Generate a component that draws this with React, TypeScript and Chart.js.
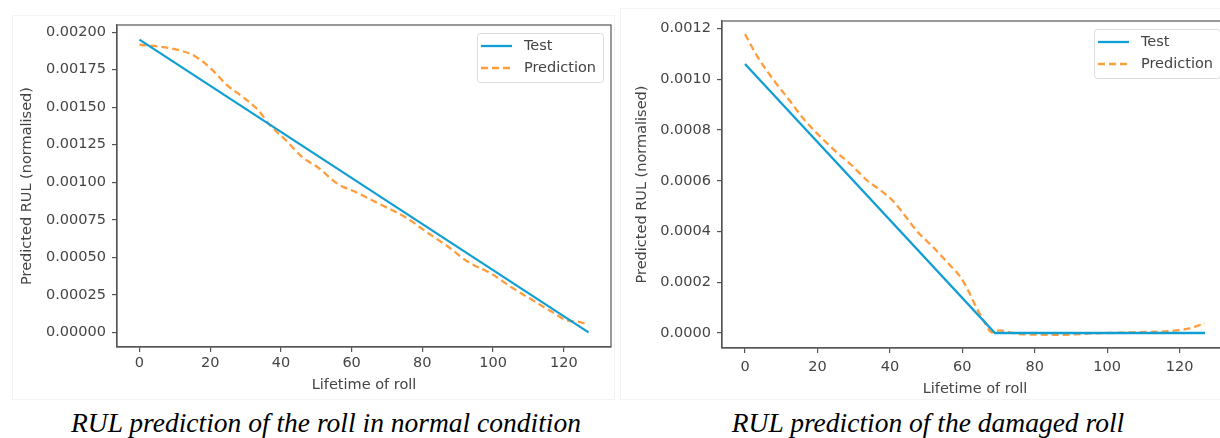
import React, { useEffect, useRef } from "react";
import { Chart, registerables } from "chart.js";

Chart.register(...registerables);

// ---------- data ----------
const seriesLabels = ["Test", "Prediction"];
const xAxisTitle = "Lifetime of roll";
const yAxisTitle = "Predicted RUL (normalised)";
const xTicks = [0, 20, 40, 60, 80, 100, 120];

// normal condition
const normalTestX = [0, 127];
const normalTestY = [0.00195, 0];
const normalPredX = [0, 5.6, 11.2, 15.7, 20.1, 24.6, 29.1, 33.6, 36.9, 41.4, 45.9, 50.4, 56, 61.6, 68.3, 75, 81.7, 87.3, 92.9, 99.6, 105.2, 110.8, 116.4, 120.9, 124.3, 127];
const normalPredY = [0.001916, 0.001904, 0.00188, 0.00184, 0.00176, 0.00165, 0.00157, 0.00148, 0.00138, 0.00128, 0.00117, 0.0011, 0.00099, 0.00093, 0.00085, 0.00077, 0.00066, 0.00057, 0.00047, 0.00039, 0.0003, 0.00022, 0.00014, 0.00008, 0.00007, 0.00005];
const normalYTicks = [0, 0.00025, 0.0005, 0.00075, 0.001, 0.00125, 0.0015, 0.00175, 0.002];

// damaged roll
const damagedTestX = [0, 69, 127];
const damagedTestY = [0.00106, 0, 0];
const damagedPredX = [0, 3.4, 7.8, 12.1, 16.4, 20.7, 25, 29.3, 33.6, 37.9, 41.1, 44.4, 47.6, 51.9, 56.2, 59.5, 61.6, 63.8, 65.9, 68.1, 70.2, 75.6, 86.4, 97.2, 108, 116.6, 122, 127];
const damagedPredY = [0.001178, 0.00109, 0.000999, 0.00092, 0.00084, 0.000775, 0.000716, 0.000663, 0.000603, 0.000557, 0.000517, 0.000458, 0.000399, 0.000339, 0.000273, 0.00022, 0.000168, 0.000102, 0.000049, 0.000003, 0.00001, -0.000004, -0.000007, -0.000001, 0.000003, 0.000007, 0.000016, 0.000038];
const damagedYTicks = [0, 0.0002, 0.0004, 0.0006, 0.0008, 0.001, 0.0012];

const captions = ["RUL prediction of the roll in normal condition", "RUL prediction of the damaged roll"];

// ---------- style ----------
const BLUE = "#119fd3";
const ORANGE = "#ff9d3c";
const AXIS = "#555555";
const TEXT = "#444444";
const FONT = "'DejaVu Sans', sans-serif";
const FONT_SIZE = 14.5;

const framePlugin = {
  id: "frame",
  afterDraw(chart: any) {
    const { ctx, chartArea: a } = chart;
    ctx.save();
    ctx.strokeStyle = AXIS;
    ctx.lineWidth = 1.2;
    ctx.strokeRect(a.left, a.top, a.right - a.left, a.bottom - a.top);
    ctx.restore();
  },
};

const legendPlugin = {
  id: "mplLegend",
  afterDraw(chart: any) {
    const { ctx, chartArea: a } = chart;
    const ds = chart.data.datasets;
    ctx.save();
    ctx.font = `${FONT_SIZE}px ${FONT}`;
    let maxW = 0;
    ds.forEach((d: any) => (maxW = Math.max(maxW, ctx.measureText(d.label).width)));
    const w = 47 + maxW + 7;
    const h = 49;
    const x = a.right - 8 - w;
    const y = a.top + 8;
    ctx.beginPath();
    (ctx as any).roundRect(x + 0.5, y + 0.5, w, h, 3);
    ctx.fillStyle = "rgba(255,255,255,0.85)";
    ctx.fill();
    ctx.strokeStyle = "#dcdcdc";
    ctx.lineWidth = 1;
    ctx.stroke();
    ds.forEach((d: any, i: number) => {
      const ry = y + 13 + i * 22;
      ctx.beginPath();
      ctx.setLineDash(d.borderDash || []);
      ctx.strokeStyle = d.borderColor;
      ctx.lineWidth = d.borderWidth;
      ctx.moveTo(x + 4, ry);
      ctx.lineTo(x + 35, ry);
      ctx.stroke();
      ctx.setLineDash([]);
      ctx.fillStyle = TEXT;
      ctx.textBaseline = "middle";
      ctx.textAlign = "left";
      ctx.fillText(d.label, x + 47, ry);
    });
    ctx.restore();
  },
};

type PanelProps = {
  left: number;
  width: number;
  height: number;
  testX: number[];
  testY: number[];
  predX: number[];
  predY: number[];
  yTicks: number[];
  yMin: number;
  yMax: number;
  decimals: number;
  padTop: number;
  padRight: number;
  yAxisW: number;
  xAxisH: number;
  yTitlePad: number;
  xTitlePad: number;
  xTickPad: number;
};

function Panel(p: PanelProps) {
  const ref = useRef<HTMLCanvasElement | null>(null);
  useEffect(() => {
    if (!ref.current) return;
    const font = { family: FONT, size: FONT_SIZE };
    const chart = new Chart(ref.current, {
      type: "line",
      data: {
        datasets: [
          {
            label: seriesLabels[0],
            data: p.testX.map((x, i) => ({ x, y: p.testY[i] })),
            borderColor: BLUE,
            borderWidth: 2.3,
            pointRadius: 0,
            tension: 0,
            fill: false,
          },
          {
            label: seriesLabels[1],
            data: p.predX.map((x, i) => ({ x, y: p.predY[i] })),
            borderColor: ORANGE,
            borderWidth: 2.3,
            borderDash: [7, 4],
            pointRadius: 0,
            cubicInterpolationMode: "monotone",
            fill: false,
          },
        ],
      },
      options: {
        animation: false,
        responsive: false,
        maintainAspectRatio: false,
        layout: { padding: { top: p.padTop, right: p.padRight, left: 0, bottom: 0 } },
        plugins: { legend: { display: false }, tooltip: { enabled: false } },
        scales: {
          x: {
            type: "linear",
            min: -6.35,
            max: 133.35,
            afterBuildTicks: (s: any) => {
              s.ticks = xTicks.map((v) => ({ value: v }));
            },
            afterFit: (s: any) => {
              s.height = p.xAxisH;
            },
            ticks: {
              color: TEXT,
              font,
              padding: p.xTickPad,
              maxRotation: 0,
              autoSkip: false,
              includeBounds: false,
              callback: (v: any) => String(v),
            },
            grid: { drawOnChartArea: false, drawTicks: true, tickLength: 5, color: AXIS, lineWidth: 1.2 },
            border: { display: true, color: AXIS, width: 1.2 },
            title: { display: true, text: xAxisTitle, color: TEXT, font, padding: { top: 0, bottom: p.xTitlePad } },
          },
          y: {
            type: "linear",
            min: p.yMin,
            max: p.yMax,
            afterBuildTicks: (s: any) => {
              s.ticks = p.yTicks.map((v) => ({ value: v }));
            },
            afterFit: (s: any) => {
              s.width = p.yAxisW;
            },
            ticks: {
              color: TEXT,
              font,
              padding: 6,
              autoSkip: false,
              includeBounds: false,
              callback: (v: any) => Number(v).toFixed(p.decimals),
            },
            grid: { drawOnChartArea: false, drawTicks: true, tickLength: 5, color: AXIS, lineWidth: 1.2 },
            border: { display: true, color: AXIS, width: 1.2 },
            title: { display: true, text: yAxisTitle, color: TEXT, font, padding: { top: p.yTitlePad, bottom: 0 } },
          },
        },
      } as any,
      plugins: [framePlugin, legendPlugin],
    });
    return () => chart.destroy();
  }, []);
  return (
    <canvas
      ref={ref}
      width={p.width}
      height={p.height}
      style={{ position: "absolute", left: p.left, top: 0, width: p.width, height: p.height }}
    />
  );
}

export default function App() {
  const captionStyle: React.CSSProperties = {
    position: "absolute",
    top: 409,
    width: 600,
    textAlign: "center",
    fontFamily: "'Liberation Serif', 'Times New Roman', serif",
    fontStyle: "italic",
    fontSize: 27.5,
    lineHeight: "27.5px",
    color: "#000",
    whiteSpace: "nowrap",
  };
  return (
    <div
      style={{
        position: "absolute",
        left: 0,
        top: 0,
        width: 1220,
        height: 438,
        overflow: "hidden",
        background: "#fff",
      }}
    >
      <div style={{ position: "absolute", left: 12, top: 15, width: 603, height: 385, border: "1px solid #f3f3f3", boxSizing: "border-box" }} />
      <div style={{ position: "absolute", left: 620, top: 8, width: 620, height: 392, border: "1px solid #f3f3f3", boxSizing: "border-box" }} />
      <Panel
        left={0}
        width={615}
        height={400}
        testX={normalTestX}
        testY={normalTestY}
        predX={normalPredX}
        predY={normalPredY}
        yTicks={normalYTicks}
        yMin={-0.0000975}
        yMax={0.0020475}
        decimals={5}
        padTop={25}
        padRight={4}
        yAxisW={117}
        xAxisH={53}
        yTitlePad={19}
        xTitlePad={6}
        xTickPad={3}
      />
      <Panel
        left={620}
        width={610}
        height={400}
        testX={damagedTestX}
        testY={damagedTestY}
        predX={damagedPredX}
        predY={damagedPredY}
        yTicks={damagedYTicks}
        yMin={-0.0000591}
        yMax={0.0012296}
        decimals={4}
        padTop={21}
        padRight={2}
        yAxisW={102}
        xAxisH={52}
        yTitlePad={14}
        xTitlePad={2}
        xTickPad={6}
      />
      <div style={{ ...captionStyle, left: 26 }}>{captions[0]}</div>
      <div style={{ ...captionStyle, left: 628 }}>{captions[1]}</div>
    </div>
  );
}
